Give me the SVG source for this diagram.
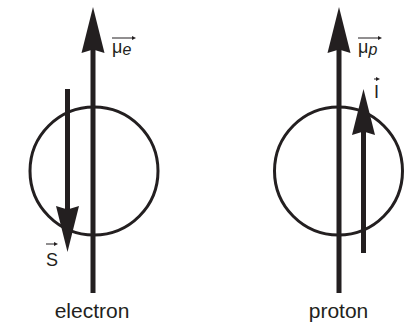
<svg xmlns="http://www.w3.org/2000/svg" width="417" height="323" viewBox="0 0 417 323">
<style>
.shaft{stroke:#231f20;stroke-width:5;fill:none}
.ring{stroke:#231f20;stroke-width:3;fill:none}
.head{fill:#231f20}
.lbl{font-family:"Liberation Sans",Arial,sans-serif;fill:#231f20}
.cap{font-family:"Liberation Sans",Arial,sans-serif;fill:#231f20;font-size:21px;text-anchor:middle}
.vec{stroke:#231f20;stroke-width:1;fill:none}
</style>
<defs>
<path id="head" d="M0,0 L11.5,46 L0,42.5 L-11.5,46 Z"/>
<path id="vh" d="M0,0 L-4,-2 L-4,2 Z"/>
</defs>
<rect width="417" height="323" fill="#fff"/>
<g id="electron">
<circle class="ring" cx="94" cy="171" r="64"/>
<line class="shaft" x1="93" y1="293" x2="93" y2="45"/>
<use href="#head" class="head" transform="translate(93,7)"/>
<line class="shaft" x1="67.5" y1="89" x2="67.5" y2="215"/>
<use href="#head" class="head" transform="translate(67.5,252) rotate(180)"/>
<g id="mu-e">
<text class="lbl" x="112" y="53" font-size="18">μ<tspan font-style="italic" font-size="16" dy="2">e</tspan></text>
<line class="vec" x1="112" y1="38" x2="134" y2="38"/>
<use href="#vh" class="head" transform="translate(136,38)"/>
</g>
<g id="S">
<text class="lbl" x="46" y="266" font-size="18">S</text>
<line class="vec" x1="46" y1="244" x2="56" y2="244"/>
<use href="#vh" class="head" transform="translate(58,244)"/>
</g>
<text class="cap" x="92" y="318">electron</text>
</g>
<g id="proton">
<circle class="ring" cx="338.5" cy="171" r="64"/>
<line class="shaft" x1="339" y1="293" x2="339" y2="45"/>
<use href="#head" class="head" transform="translate(339,7)"/>
<line class="shaft" x1="363.5" y1="253" x2="363.5" y2="128"/>
<use href="#head" class="head" transform="translate(363.5,89)"/>
<g id="mu-p">
<text class="lbl" x="358" y="53" font-size="18">μ<tspan font-style="italic" font-size="16" dy="2">p</tspan></text>
<line class="vec" x1="358" y1="38" x2="380" y2="38"/>
<use href="#vh" class="head" transform="translate(382,38)"/>
</g>
<g id="I">
<text class="lbl" x="374" y="98" font-size="18">I</text>
<line class="vec" x1="374" y1="79" x2="378" y2="79"/>
<use href="#vh" class="head" transform="translate(380,79)"/>
</g>
<text class="cap" x="338.5" y="318">proton</text>
</g>
</svg>
